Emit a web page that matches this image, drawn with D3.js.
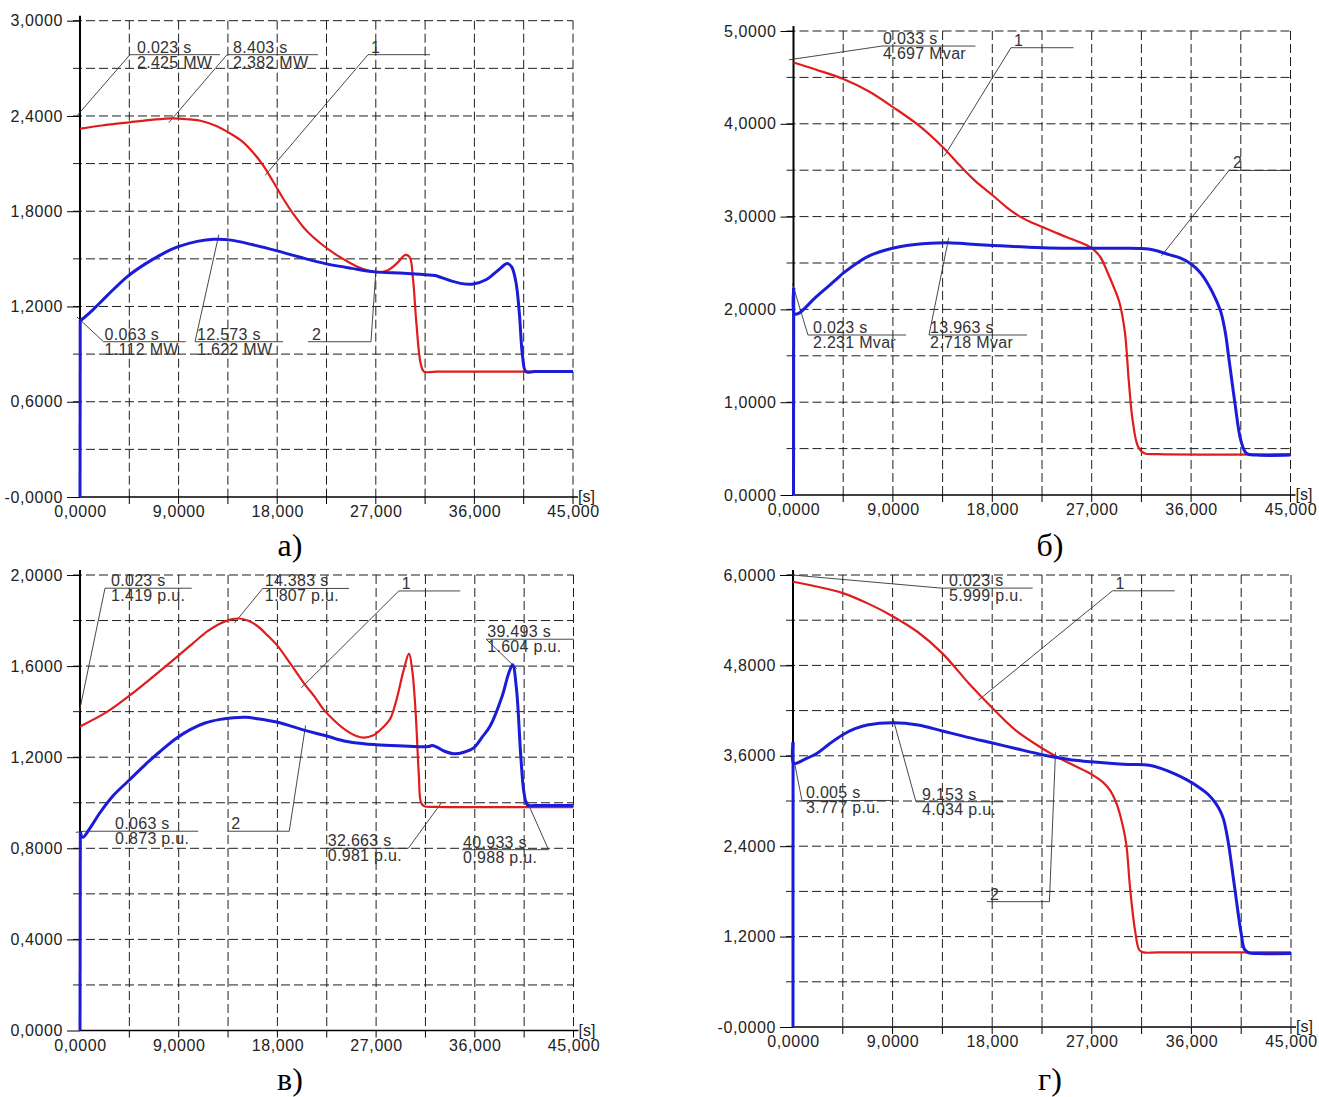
<!DOCTYPE html>
<html><head><meta charset="utf-8">
<script src="https://cdn.jsdelivr.net/npm/d3@7"></script>
<style>
body{margin:0;background:#fff;}
svg{display:block;}
</style></head><body>
<svg id="chart" width="1319" height="1097"></svg>
<script>
// ---------- shared axis data ----------
const xTickValues = [0, 9, 18, 27, 36, 45];
const xTickLabels = ["0,0000", "9,0000", "18,000", "27,000", "36,000", "45,000"];

// ---------- panel а) active power ----------
const aYTicks = [0, 0.6, 1.2, 1.8, 2.4, 3.0];
const aYLabels = ["-0,0000", "0,6000", "1,2000", "1,8000", "2,4000", "3,0000"];
const aRed = [[0,2.32],[2,2.34],[4.5,2.36],[6.5,2.375],[8.4,2.385],[10,2.378],[11,2.37],[12.5,2.335],[13.7,2.29],[14.8,2.24],[15.8,2.17],[16.7,2.09],[17.6,1.99],[18.5,1.885],[19.5,1.78],[20.7,1.675],[22,1.595],[23.3,1.53],[24.5,1.48],[25.5,1.445],[26.9,1.418],[28,1.425],[28.9,1.47],[29.7,1.525],[30.1,1.51],[30.4,1.37],[30.7,1.10],[31.1,0.84],[31.4,0.79],[32.5,0.79],[45,0.79]];
const aBlue = [[0,0],[0.02,1.11],[0.063,1.112],[1.2,1.18],[2.5,1.27],[4.35,1.39],[6,1.47],[7.5,1.53],[8.9,1.575],[10.7,1.61],[12.2,1.623],[13.8,1.618],[15.7,1.59],[18,1.55],[20.1,1.51],[22.4,1.47],[24.8,1.44],[26.9,1.418],[29.6,1.41],[31.5,1.40],[32.4,1.395],[33.7,1.365],[34.9,1.344],[35.9,1.342],[37.1,1.37],[38.2,1.43],[39,1.47],[39.4,1.45],[39.8,1.35],[40.1,1.16],[40.4,0.885],[40.7,0.79],[41.5,0.79],[45,0.79]];
const aNotes = [
  {text:["0.023 s","2.425 MW"], to:[0.023,2.425], u:[4.56,12.78,2.786], side:"start", dx:7},
  {text:["8.403 s","2.382 MW"], to:[8.403,2.382], u:[13.42,21.72,2.786], side:"start", dx:6},
  {text:["1"], to:[17.2,2.05], u:[26.29,31.95,2.786], side:"start", dx:3},
  {text:["0.063 s","1.112 MW"], to:[0.063,1.112], u:[2.15,9.65,0.978], side:"start", dx:1},
  {text:["12.573 s","1.622 MW"], to:[12.573,1.622], u:[10.5,18.53,0.978], side:"start", dx:2},
  {text:["2"], to:[27.0,1.418], u:[20.8,26.56,0.978], side:"end", dx:4}
];

// ---------- panel б) reactive power ----------
const bYTicks = [0, 1, 2, 3, 4, 5];
const bYLabels = ["0,0000", "1,0000", "2,0000", "3,0000", "4,0000", "5,0000"];
const bRed = [[0,4.66],[2,4.585],[4.46,4.485],[6.8,4.35],[9,4.18],[11.26,3.99],[13.5,3.75],[15.07,3.55],[16.5,3.38],[18,3.233],[19.3,3.10],[20.5,3.00],[21.5,2.94],[22.5,2.89],[23.6,2.835],[24.7,2.78],[26,2.72],[27,2.66],[27.75,2.57],[28.36,2.42],[29.1,2.21],[29.5,2.08],[30.0,1.76],[30.35,1.24],[30.7,0.81],[31.2,0.52],[31.75,0.45],[33,0.44],[45,0.44]];
const bBlue = [[0,0],[0.02,2.23],[0.1,1.95],[0.5,1.96],[2,2.13],[3.85,2.32],[4.5,2.39],[6,2.52],[6.9,2.58],[8.2,2.635],[9.6,2.675],[11,2.70],[12.4,2.714],[13.96,2.718],[15.07,2.712],[16.5,2.70],[18.7,2.685],[21,2.672],[22.5,2.665],[25,2.66],[27,2.66],[30,2.658],[31.5,2.655],[32.6,2.64],[34,2.59],[35,2.555],[36,2.49],[36.8,2.40],[37.5,2.28],[38.2,2.12],[38.7,1.97],[39.1,1.75],[39.4,1.49],[39.97,0.99],[40.5,0.59],[41.0,0.45],[42,0.43],[45,0.43]];
const bNotes = [
  {text:["0.033 s","4.697 Mvar"], to:[0.033,4.697], u:[8.01,16.48,4.838], side:"start", dx:1},
  {text:["1"], to:[13.9,3.70], u:[19.69,25.35,4.82], side:"start", dx:3},
  {text:["2"], to:[33.6,2.62], u:[39.43,45.04,3.497], side:"start", dx:4},
  {text:["0.023 s","2.231 Mvar"], to:[0.023,2.231], u:[1.31,10.19,1.724], side:"start", dx:5},
  {text:["13.963 s","2.718 Mvar"], to:[13.963,2.718], u:[12.27,21.14,1.724], side:"start", dx:1}
];

// ---------- panel в) ----------
const cYTicks = [0, 0.4, 0.8, 1.2, 1.6, 2.0];
const cYLabels = ["0,0000", "0,4000", "0,8000", "1,2000", "1,6000", "2,0000"];
const cRed = [[0,1.335],[2.5,1.40],[4.5,1.47],[6.7,1.555],[8.95,1.645],[10.3,1.70],[11.6,1.752],[12.7,1.785],[13.7,1.804],[14.5,1.809],[15.3,1.80],[16.2,1.775],[17.1,1.735],[18,1.69],[19.2,1.61],[20.5,1.52],[21.4,1.465],[22.2,1.41],[23.2,1.36],[24.2,1.32],[25.2,1.293],[25.9,1.286],[26.7,1.295],[27.5,1.325],[28.3,1.37],[28.9,1.46],[29.5,1.58],[30.0,1.655],[30.3,1.58],[30.6,1.40],[30.9,1.12],[31.1,1.00],[31.4,0.985],[32.5,0.982],[45,0.981]];
const cBlue = [[0,0],[0.03,0.873],[0.25,0.848],[1,0.895],[1.8,0.955],[3,1.03],[4.5,1.10],[6,1.17],[7.3,1.225],[8.7,1.28],[10,1.32],[11.4,1.35],[12.8,1.366],[14,1.373],[15.1,1.375],[16.2,1.369],[17.3,1.36],[18.3,1.35],[19.4,1.334],[20.5,1.318],[21.5,1.305],[22.5,1.293],[24.2,1.27],[25.9,1.259],[27,1.255],[29,1.25],[31,1.246],[31.8,1.247],[32.1,1.251],[32.5,1.245],[33.3,1.225],[34.1,1.215],[35,1.222],[35.9,1.241],[36.7,1.29],[37.4,1.337],[38.5,1.469],[39.1,1.57],[39.45,1.606],[39.8,1.50],[40.2,1.20],[40.5,1.04],[40.8,0.99],[41.5,0.988],[45,0.988]];
const cNotes = [
  {text:["0.023 s","1.419 p.u."], to:[0.023,1.419], u:[2.28,10.19,1.942], side:"start", dx:6},
  {text:["14.383 s","1.807 p.u."], to:[14.383,1.807], u:[16.66,24.53,1.941], side:"start", dx:2},
  {text:["1"], to:[20.5,1.52], u:[29.07,34.67,1.93], side:"start", dx:3},
  {text:["39.493 s","1.604 p.u."], to:[39.493,1.604], u:[37.04,45.05,1.718], side:"start", dx:1},
  {text:["0.063 s","0.873 p.u."], to:[0.063,0.873], u:[0.37,10.77,0.875], side:"start", dx:31},
  {text:["2"], to:[20.5,1.318], u:[13.42,19.08,0.875], side:"end", dx:4},
  {text:["32.663 s","0.981 p.u."], to:[32.663,0.981], u:[22.41,29.94,0.80], side:"end", dx:2},
  {text:["40.933 s","0.988 p.u."], to:[40.933,0.988], u:[34.84,42.72,0.794], side:"end", dx:1}
];

// ---------- panel г) ----------
const dYTicks = [0, 1.2, 2.4, 3.6, 4.8, 6.0];
const dYLabels = ["-0,0000", "1,2000", "2,4000", "3,6000", "4,8000", "6,0000"];
const dRed = [[0,5.91],[2,5.85],[4.5,5.76],[6.8,5.62],[9.04,5.45],[11.3,5.24],[13.5,4.96],[15.9,4.56],[18.04,4.23],[20.1,3.94],[22.5,3.70],[23.8,3.59],[25.4,3.47],[26.9,3.36],[28.0,3.25],[28.7,3.13],[29.2,2.98],[29.6,2.79],[30.1,2.44],[30.45,1.86],[30.9,1.29],[31.3,1.02],[31.7,0.99],[33,0.99],[45,0.99]];
const dBlue = [[0,0],[0.005,3.78],[0.08,3.50],[1,3.55],[2.14,3.63],[3.3,3.76],[4.5,3.88],[5.6,3.96],[6.7,4.01],[9.04,4.04],[11.3,4.01],[13.5,3.93],[15.8,3.845],[18.04,3.77],[20.3,3.69],[22.5,3.615],[23.95,3.575],[25.5,3.54],[26.9,3.52],[28.6,3.50],[30.3,3.485],[32.2,3.475],[33.3,3.43],[34.5,3.36],[35.6,3.28],[36.6,3.19],[37.5,3.09],[38.2,2.97],[38.6,2.87],[38.9,2.76],[39.15,2.60],[39.4,2.39],[39.9,1.86],[40.5,1.24],[40.8,1.03],[41.2,0.985],[42,0.975],[45,0.975]];
const dNotes = [
  {text:["0.023 s","5.999 p.u."], to:[0.023,5.999], u:[13.37,21.66,5.826], side:"start", dx:8},
  {text:["1"], to:[17.1,4.38], u:[28.87,34.49,5.79], side:"start", dx:3},
  {text:["0.005 s","3.777 p.u."], to:[0.2,3.46], u:[0.81,8.83,3.007], side:"start", dx:4},
  {text:["9.153 s","4.034 p.u."], to:[9.153,4.034], u:[11.11,19.02,2.99], side:"start", dx:6},
  {text:["2"], to:[23.7,3.58], u:[17.53,23.17,1.664], side:"end", dx:3}
];

// ---------- layout ----------
const panels = [
  {x0:80, x1:573, yTop:20.7, yBot:497, yMax:3, step:0.3, yTicks:aYTicks, yLabels:aYLabels, red:aRed, blue:aBlue, notes:aNotes, letter:"а)", lx:290, ly:556},
  {x0:793.5, x1:1290.5, yTop:31, yBot:495, yMax:5, step:0.5, yTicks:bYTicks, yLabels:bYLabels, red:bRed, blue:bBlue, notes:bNotes, letter:"б)", lx:1050, ly:556},
  {x0:80, x1:573.5, yTop:575, yBot:1030.5, yMax:2, step:0.2, yTicks:cYTicks, yLabels:cYLabels, red:cRed, blue:cBlue, notes:cNotes, letter:"в)", lx:290, ly:1090},
  {x0:793, x1:1291, yTop:575, yBot:1027, yMax:6, step:0.6, yTicks:dYTicks, yLabels:dYLabels, red:dRed, blue:dBlue, notes:dNotes, letter:"г)", lx:1050, ly:1090}
];

const svg = d3.select("#chart");
const SANS = "'Liberation Sans', Arial, sans-serif";
const GRID = "#1e1e1e", RED = "#e01c1c", BLUE = "#1b1bd8", NOTE = "#333";

panels.forEach(drawPanel);

function drawPanel(p) {
  const g = svg.append("g");
  const x = d3.scaleLinear().domain([0, 45]).range([p.x0, p.x1]);
  const y = d3.scaleLinear().domain([0, p.yMax]).range([p.yBot, p.yTop]);

  // horizontal dashed grid
  const hg = d3.range(1, Math.round(p.yMax / p.step) + 1).map(i => i * p.step);
  g.append("g").selectAll("line").data(hg).join("line")
    .attr("x1", p.x0 - 7).attr("x2", p.x1)
    .attr("y1", d => y(d)).attr("y2", d => y(d))
    .attr("stroke", GRID).attr("stroke-width", 1).attr("stroke-dasharray", "9,4");
  // vertical dashed grid
  const vg = d3.range(1, 11).map(i => i * 4.5);
  g.append("g").selectAll("line").data(vg).join("line")
    .attr("x1", d => x(d)).attr("x2", d => x(d))
    .attr("y1", y(p.yMax)).attr("y2", p.yBot)
    .attr("stroke", GRID).attr("stroke-width", 1).attr("stroke-dasharray", "9,4");
  // small ticks below x-axis
  g.append("g").selectAll("line").data(vg).join("line")
    .attr("x1", d => x(d)).attr("x2", d => x(d))
    .attr("y1", p.yBot).attr("y2", p.yBot + 7)
    .attr("stroke", "#000").attr("stroke-width", 1);

  // y axis labels & ticks
  const ya = g.append("g").attr("transform", `translate(${p.x0},0)`)
    .call(d3.axisLeft(y).tickValues(p.yTicks).tickFormat((d, i) => p.yLabels[i]).tickSize(13).tickPadding(4));
  ya.select(".domain").remove();
  ya.selectAll(".tick line").attr("stroke", "#000");
  ya.selectAll(".tick text").style("font-size", "16px").style("letter-spacing", "0.6px")
    .style("font-family", SANS).attr("fill", "#222");

  // x axis labels
  const xa = g.append("g").attr("transform", `translate(0,${p.yBot})`)
    .call(d3.axisBottom(x).tickValues(xTickValues).tickFormat((d, i) => xTickLabels[i]).tickSize(0).tickPadding(9));
  xa.select(".domain").remove();
  xa.selectAll(".tick text").style("font-size", "16px").style("letter-spacing", "0.6px")
    .style("font-family", SANS).attr("fill", "#222");

  // axis lines
  g.append("line").attr("x1", p.x0).attr("x2", p.x1 + 5).attr("y1", p.yBot).attr("y2", p.yBot)
    .attr("stroke", "#000").attr("stroke-width", 1.6);
  g.append("line").attr("x1", p.x0).attr("x2", p.x0).attr("y1", p.yBot).attr("y2", p.yTop - 5)
    .attr("stroke", "#000").attr("stroke-width", 2);
  g.append("text").attr("x", p.x1 + 5).attr("y", p.yBot + 5).text("[s]")
    .style("font-size", "16px").style("font-family", SANS).attr("fill", "#222");

  // annotations
  const ng = g.append("g");
  p.notes.forEach(n => {
    const ux1 = x(n.u[0]), ux2 = x(n.u[1]), uy = y(n.u[2]);
    const tx = x(n.to[0]), ty = y(n.to[1]);
    const sx = n.side === "start" ? ux1 : ux2;
    ng.append("line").attr("x1", ux1).attr("x2", ux2).attr("y1", uy).attr("y2", uy)
      .attr("stroke", NOTE).attr("stroke-width", 0.9);
    const dxl = tx - sx, dyl = ty - uy, L = Math.hypot(dxl, dyl) || 1;
    ng.append("line").attr("x1", sx).attr("y1", uy)
      .attr("x2", tx + dxl / L * 5).attr("y2", ty + dyl / L * 5)
      .attr("stroke", NOTE).attr("stroke-width", 0.9);
    n.text.forEach((t, i) => {
      ng.append("text").attr("x", ux1 + n.dx).attr("y", i === 0 ? uy - 2 : uy + 13)
        .style("font-size", "16px").style("letter-spacing", "0.3px").style("font-family", SANS)
        .attr("fill", NOTE).text(t);
    });
  });

  // series: the initial jump at t = 0 is a straight vertical stroke, the rest a smooth curve
  const smooth = d3.line().x(d => x(d[0])).y(d => y(d[1])).curve(d3.curveCatmullRom.alpha(0.5));
  const straight = d3.line().x(d => x(d[0])).y(d => y(d[1]));
  const drawSeries = (data, color, width) => {
    const jump = data.length > 2 && data[1][0] - data[0][0] < 0.05;
    if (jump) {
      g.append("path").datum(data.slice(0, 2)).attr("d", straight).attr("fill", "none")
        .attr("stroke", color).attr("stroke-width", width);
    }
    g.append("path").datum(jump ? data.slice(1) : data).attr("d", smooth).attr("fill", "none")
      .attr("stroke", color).attr("stroke-width", width).attr("stroke-linejoin", "round");
  };
  drawSeries(p.red, RED, 2.2);
  drawSeries(p.blue, BLUE, 3);

  // panel letter
  svg.append("text").attr("x", p.lx).attr("y", p.ly).attr("text-anchor", "middle")
    .style("font-family", "'Liberation Serif', 'Times New Roman', serif")
    .style("font-size", "32px").attr("fill", "#000").text(p.letter);
}
</script>
</body></html>
